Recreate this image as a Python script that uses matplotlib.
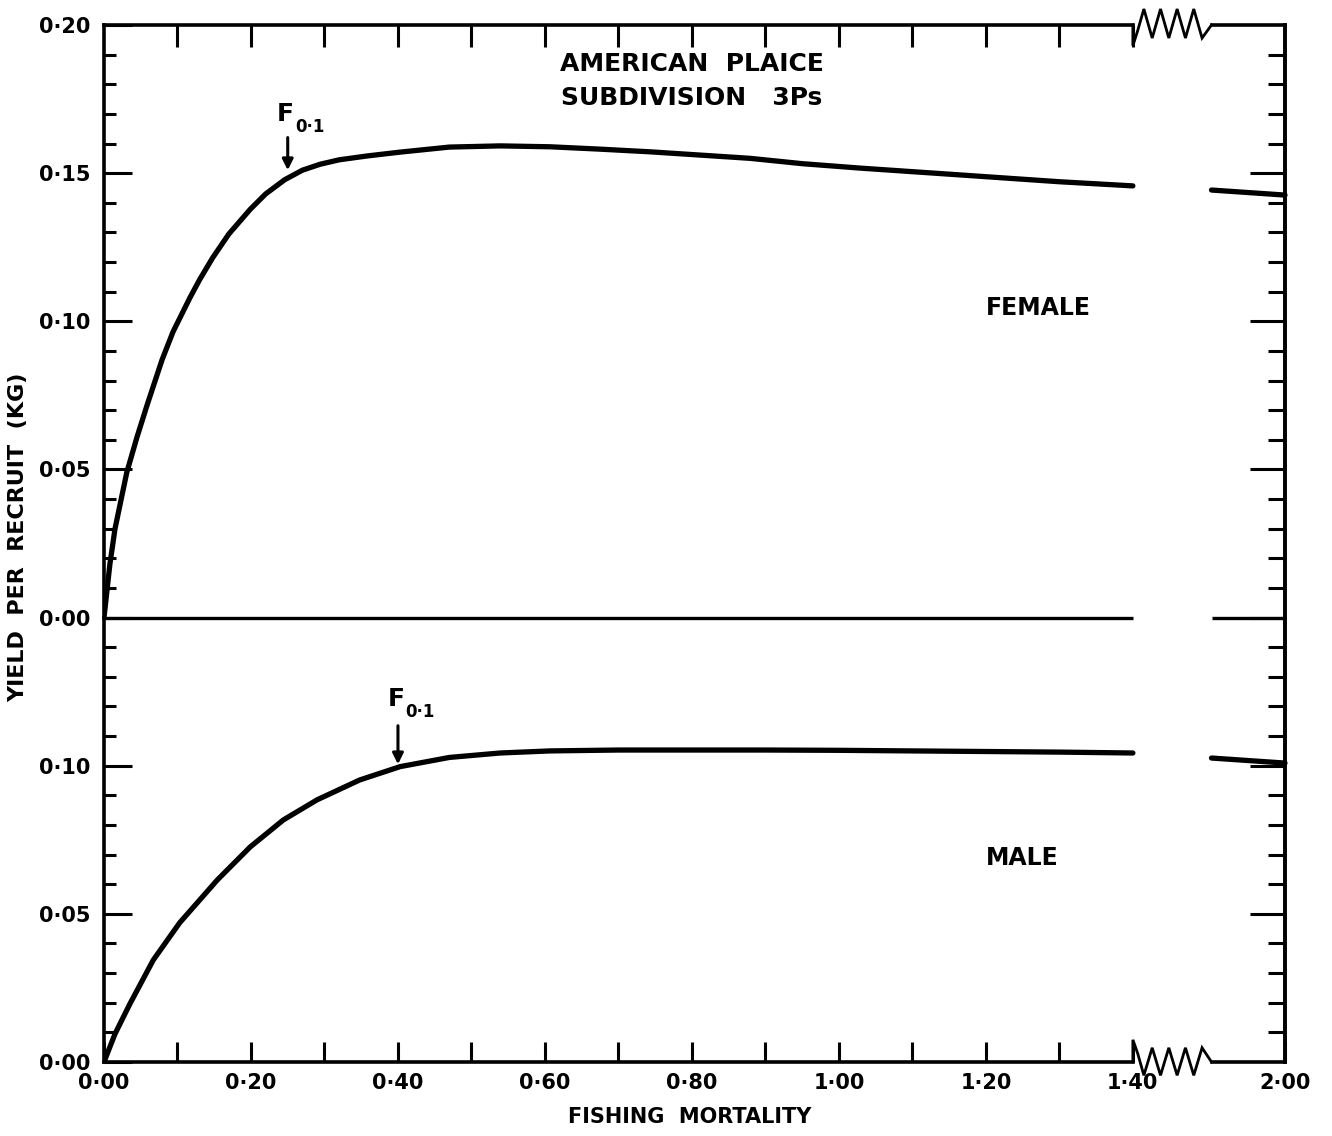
"""
Yield per recruit vs fishing mortality, American plaice 3Ps (female / male panels).
"""

import numpy as np
import matplotlib
matplotlib.use("Agg")
import matplotlib.pyplot as plt
from matplotlib.ticker import FixedLocator, FuncFormatter, NullFormatter
from matplotlib.transforms import blended_transform_factory

plt.rcParams["font.family"] = ["DejaVu Sans"]
plt.rcParams["font.weight"] = "bold"

# ---------------------------------------------------------------------------
# Data
# ---------------------------------------------------------------------------
female_f = [0.00, 0.008, 0.015, 0.031, 0.045, 0.059, 0.079, 0.094, 0.117, 0.13,
            0.148, 0.17, 0.199, 0.22, 0.246, 0.27, 0.294, 0.32, 0.358, 0.403,
            0.47, 0.539, 0.607, 0.675, 0.743, 0.811, 0.879, 0.95, 1.029, 1.165,
            1.30, 1.40]
female_y = [0.000, 0.018, 0.030, 0.049, 0.061, 0.072, 0.087, 0.0965, 0.108, 0.114,
            0.1215, 0.1295, 0.1378, 0.1430, 0.1478, 0.1510, 0.1530, 0.1545, 0.1558, 0.1571,
            0.1588, 0.1592, 0.1589, 0.1581, 0.1572, 0.1561, 0.1550, 0.1532, 0.1517, 0.1494,
            0.1471, 0.1457]
female_f_tail = [1.90, 2.00]
female_y_tail = [0.1443, 0.1426]

male_f = [0.00, 0.015, 0.035, 0.067, 0.103, 0.154, 0.199, 0.244, 0.29, 0.348,
          0.403, 0.47, 0.539, 0.607, 0.70, 0.80, 0.90, 1.00, 1.10, 1.20, 1.30, 1.40]
male_y = [0.000, 0.0095, 0.0195, 0.0344, 0.0470, 0.0614, 0.0726, 0.0817, 0.0885, 0.0952,
          0.0997, 0.1028, 0.1043, 0.1050, 0.1053, 0.1053, 0.1053, 0.1052, 0.1050, 0.1048,
          0.1046, 0.1043]
male_f_tail = [1.90, 2.00]
male_y_tail = [0.1026, 0.1009]

f01_female = (0.25, 0.151)
f01_male = (0.40, 0.1005)

x_labels_at = [0.0, 0.2, 0.4, 0.6, 0.8, 1.0, 1.2, 1.4, 2.0]
x_minor_at = [0.1, 0.3, 0.5, 0.7, 0.9, 1.1, 1.3]

BREAK_LO, BREAK_HI = 1.4, 1.9


# broken x axis: 1.4 -> 1.9 squeezed
def fwd(f):
    f = np.asarray(f, dtype=float)
    return np.where(f <= BREAK_LO, f,
                    np.where(f <= BREAK_HI, BREAK_LO + (f - BREAK_LO) * 0.214, f - 0.393))


def inv(u):
    u = np.asarray(u, dtype=float)
    return np.where(u <= BREAK_LO, u,
                    np.where(u <= BREAK_LO + 0.107, BREAK_LO + (u - BREAK_LO) / 0.214, u + 0.393))


def dot_fmt(v, _):
    return f"{v:.2f}".replace(".", "·")


W, H = 1332, 1136
fig = plt.figure(figsize=(W / 100, H / 100), dpi=100)
L, R = 104, 1285
TOP, MID, BOT = 25, 617.6, 1062
ax_f = fig.add_axes([L / W, (H - MID) / H, (R - L) / W, (MID - TOP) / H])
ax_m = fig.add_axes([L / W, (H - BOT) / H, (R - L) / W, (BOT - MID) / H])

LW_SPINE = 2.6
LW_CURVE = 3.8
for ax in (ax_f, ax_m):
    ax.set_facecolor("none")
    ax.set_xscale("function", functions=(fwd, inv))
    ax.set_xlim(0, 2.0)
    for s in ax.spines.values():
        s.set_linewidth(LW_SPINE)
ax_f.set_ylim(0, 0.20)
ax_m.set_ylim(0, 0.15)
ax_f.spines["bottom"].set_visible(False)
ax_f.spines["top"].set_visible(False)
ax_m.spines["top"].set_visible(False)
ax_m.spines["bottom"].set_visible(False)

# ---------------------------------------------------------------------------
# Curves
# ---------------------------------------------------------------------------
curve_kw = dict(color="black", lw=LW_CURVE, solid_capstyle="round", solid_joinstyle="round")
ax_f.plot(female_f, female_y, **curve_kw)
ax_f.plot(female_f_tail, female_y_tail, clip_on=False, **curve_kw)
ax_m.plot(male_f, male_y, **curve_kw)
ax_m.plot(male_f_tail, male_y_tail, clip_on=False, **curve_kw)

# divider (female zero line), broken at the axis break
ax_f.hlines(0, 0, BREAK_LO, color="black", lw=2.4, clip_on=False)
ax_f.hlines(0, BREAK_HI, 2.0, color="black", lw=2.4, clip_on=False)

# top / bottom frame with zigzag break marks
zig_x = np.linspace(1.47, 1.84, 8)
for ax, edge, up, down in ((ax_f, 1.0, 0.027, -0.022), (ax_m, 0.0, 0.032, -0.030)):
    tr = blended_transform_factory(ax.transData, ax.transAxes)
    ax.plot([0, BREAK_LO], [edge, edge], color="black", lw=LW_SPINE, transform=tr, clip_on=False)
    ax.plot([BREAK_HI, 2.0], [edge, edge], color="black", lw=LW_SPINE, transform=tr, clip_on=False)
    if edge == 1.0:
        zy = [edge + up if i % 2 == 0 else edge + down for i in range(len(zig_x))]
        xs = [BREAK_LO, BREAK_LO, 1.43] + list(zig_x) + [BREAK_HI]
        ys = [edge, edge - 0.035, edge - 0.01] + zy + [edge]
    else:
        zy = [edge + down if i % 2 == 0 else edge + up for i in range(len(zig_x))]
        xs = [BREAK_LO, BREAK_LO, 1.43] + list(zig_x) + [BREAK_HI]
        ys = [edge, edge + 0.05, edge + 0.02] + zy + [edge]
    ax.plot(xs, ys, color="black", lw=2.0, transform=tr, clip_on=False, solid_joinstyle="miter")

# ---------------------------------------------------------------------------
# Ticks
# ---------------------------------------------------------------------------
TICK_FS = 15
# x: bottom axis carries labels, top axis only ticks
ax_m.xaxis.set_major_locator(FixedLocator(x_labels_at))
ax_m.xaxis.set_minor_locator(FixedLocator(x_minor_at))
ax_m.xaxis.set_major_formatter(FuncFormatter(dot_fmt))
ax_m.xaxis.set_minor_formatter(NullFormatter())
ax_m.tick_params(axis="x", which="both", direction="in", length=14.4, width=2.2,
                 top=False, bottom=True, labelsize=TICK_FS, pad=8)
ax_f.xaxis.set_major_locator(FixedLocator(x_minor_at + [0.2, 0.4, 0.6, 0.8, 1.0, 1.2, 1.4]))
ax_f.xaxis.set_minor_locator(FixedLocator([]))
ax_f.tick_params(axis="x", which="both", direction="in", length=15.5, width=2.2,
                 top=True, bottom=False, labeltop=False, labelbottom=False)

for ax, top in ((ax_f, 0.20), (ax_m, 0.15)):
    majors = np.arange(0, top + 1e-9, 0.05)
    minors = [m for m in np.arange(0.01, top, 0.01) if abs(m / 0.05 - round(m / 0.05)) > 1e-6]
    ax.yaxis.set_major_locator(FixedLocator(majors if top == 0.20 else majors[:-1]))
    ax.yaxis.set_minor_locator(FixedLocator(minors))
    ax.yaxis.set_major_formatter(FuncFormatter(dot_fmt))
    ax.tick_params(axis="y", which="major", direction="in", length=20, width=2.2,
                   left=True, right=False, labelsize=TICK_FS, pad=10)
    ax.tick_params(axis="y", which="minor", direction="in", length=8.6, width=2.2,
                   left=True, right=False)
    sec = ax.secondary_yaxis("right")
    sec.spines["right"].set_linewidth(LW_SPINE)
    sec.yaxis.set_major_locator(FixedLocator(majors[1:-1] if top == 0.20 else majors[1:]))
    sec.yaxis.set_minor_locator(FixedLocator(minors))
    sec.tick_params(axis="y", which="major", direction="in", length=25, width=2.2, labelright=False)
    sec.tick_params(axis="y", which="minor", direction="in", length=12, width=2.2)

# ---------------------------------------------------------------------------
# Text
# ---------------------------------------------------------------------------
ax_f.text(0.80, 0.187, "AMERICAN  PLAICE", ha="center", va="center", fontsize=18)
ax_f.text(0.80, 0.1755, "SUBDIVISION   3Ps", ha="center", va="center", fontsize=18)
ax_f.text(1.272, 0.1045, "FEMALE", ha="center", va="center", fontsize=17)
ax_m.text(1.249, 0.0688, "MALE", ha="center", va="center", fontsize=17)

for ax, (fx, fy), y_tail, y_txt in ((ax_f, f01_female, 0.1620, 0.1700),
                                   (ax_m, f01_male, 0.1135, 0.1225)):
    ax.annotate("", xy=(fx, fy), xytext=(fx, y_tail),
                arrowprops=dict(arrowstyle="-|>", color="black", lw=2.2, mutation_scale=16,
                                shrinkA=0, shrinkB=0))
    ax.text(fx - 0.003, y_txt, "F", ha="center", va="center", fontsize=18)
    ax.text(fx + 0.010, y_txt - 0.0045, "0·1", ha="left", va="center", fontsize=12)

fig.text(18 / W, 1 - 537 / H, "YIELD  PER  RECRUIT  (KG)", rotation=90,
         ha="center", va="center", fontsize=16)
fig.text(690 / W, 1 - 1117 / H, "FISHING  MORTALITY", ha="center", va="center", fontsize=15)

fig.savefig("out.png", dpi=100, facecolor="white")
